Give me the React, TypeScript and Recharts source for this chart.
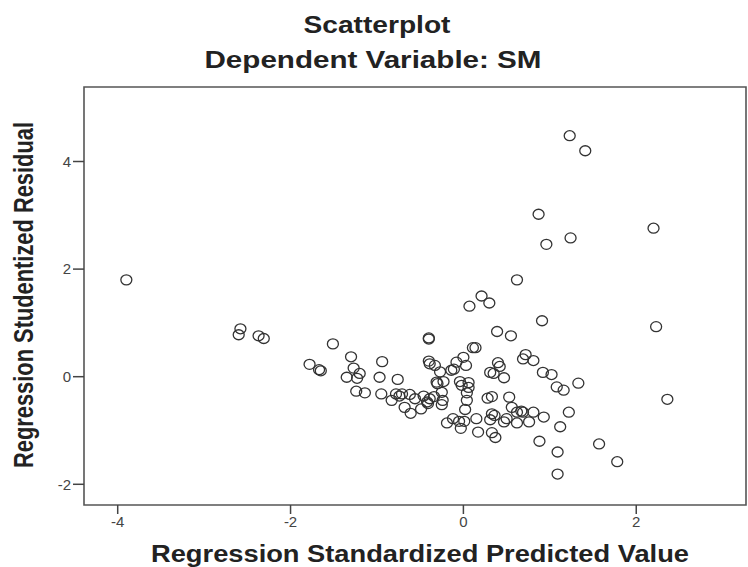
import React from "react";
import {
  ReferenceArea,
  Scatter,
  ScatterChart,
  XAxis,
  YAxis,
} from "recharts";

// predicted value (x) vs studentized residual (y)
const PREDICTED = [
  -3.9, 1.23, 1.41, 0.87, 2.2, 1.24, 0.96, 0.62, 0.21, 0.3, 0.07, 0.91, 2.23,
  -2.58, -2.6, -2.37, -2.31, 0.39, 0.55, -0.4, -0.4, -1.51, 0.11, 0.14, -1.3,
  0.72, 0.69, 0.81, -0.94, -1.78, -1.67, -1.65, -1.27, -1.2, -1.35, -1.23,
  -0.97, -0.76, -1.24, -1.14, -0.95, -0.4, -0.39, -0.33, -0.08, 0.0, 0.03,
  -0.14, -0.11, -0.27, 0.4, 0.42, 0.31, 0.47, 0.92, 1.02, 1.33, 1.08, 1.16,
  -0.31, -0.23, -0.04, 0.06, -0.02, -0.25, 0.04, 0.04, -0.24, -0.25, -0.78,
  -0.71, -0.62, -0.83, -0.56, -0.68, -0.61, -0.49, -0.42, -0.39, -0.34, -0.41,
  0.28, 0.33, 0.53, 0.56, 0.02, 0.33, 0.36, 0.62, 0.67, 0.69, 0.81, 0.93, 1.22,
  0.15, 0.31, 0.47, 0.62, 0.76, -0.12, -0.19, -0.05, 0.01, -0.03, 0.17, 0.33,
  0.37, 1.12, 0.88, 1.57, 1.09, 1.78, 1.09, 2.36, 0.5, -0.74, 0.06, -0.46,
  -0.3, 0.35,
];

const RESIDUAL = [
  1.8, 4.48, 4.2, 3.02, 2.76, 2.58, 2.46, 1.8, 1.5, 1.37, 1.31, 1.04, 0.93,
  0.89, 0.78, 0.76, 0.71, 0.84, 0.76, 0.72, 0.7, 0.61, 0.54, 0.54, 0.37, 0.41,
  0.33, 0.3, 0.28, 0.23, 0.13, 0.11, 0.16, 0.06, -0.01, -0.03, -0.01, -0.05,
  -0.27, -0.3, -0.32, 0.29, 0.24, 0.21, 0.27, 0.36, 0.21, 0.12, 0.14, 0.09,
  0.26, 0.19, 0.08, -0.02, 0.08, 0.04, -0.12, -0.19, -0.25, -0.1, -0.09, -0.09,
  -0.11, -0.16, -0.29, -0.3, -0.44, -0.44, -0.52, -0.32, -0.32, -0.33, -0.44,
  -0.41, -0.57, -0.68, -0.6, -0.47, -0.41, -0.37, -0.5, -0.4, -0.37, -0.38,
  -0.57, -0.61, -0.69, -0.72, -0.66, -0.64, -0.66, -0.66, -0.75, -0.66, -0.78,
  -0.8, -0.84, -0.86, -0.84, -0.78, -0.86, -0.83, -0.83, -0.96, -1.03, -1.04,
  -1.13, -0.93, -1.2, -1.25, -1.4, -1.58, -1.81, -0.42, -0.78, -0.36, -0.2,
  -0.36, -0.13, 0.06,
];

const X_TICKS = [-4, -2, 0, 2];
const Y_TICKS = [-2, 0, 2, 4];
const X_DOMAIN = [-4.39, 3.27];
const Y_DOMAIN = [-2.385, 5.385];

const TITLE = "Scatterplot";
const SUBTITLE = "Dependent Variable: SM";
const X_LABEL = "Regression Standardized Predicted Value";
const Y_LABEL = "Regression Studentized Residual";

const points = PREDICTED.map((x, i) => ({ x, y: RESIDUAL[i] }));

const FONT = "'Liberation Sans', Arial, sans-serif";
const INK = "#222";

// the source picture is stretched sideways, so texts get a fixed length
const Stretched = ({ x, y, len, size, rotate, children }: any) => (
  <text
    x={x}
    y={y}
    textAnchor="middle"
    fontFamily={FONT}
    fontWeight="bold"
    fontSize={size}
    fill={INK}
    textLength={len}
    lengthAdjust="spacingAndGlyphs"
    transform={rotate ? `rotate(-90, ${x}, ${y})` : undefined}
  >
    {children}
  </text>
);

const Ring = (props: any) => (
  <ellipse
    cx={props.cx}
    cy={props.cy}
    rx={5.5}
    ry={5}
    fill="none"
    stroke="#333"
    strokeWidth={1.3}
  />
);

export default function App() {
  return (
    <div
      style={{
        position: "absolute",
        left: 0,
        top: 0,
        width: 748,
        height: 567,
        background: "#fff",
      }}
    >
      <ScatterChart
        width={748}
        height={567}
        margin={{ top: 87, right: 2, bottom: 32, left: 24 }}
      >
        <XAxis
          type="number"
          dataKey="x"
          domain={X_DOMAIN}
          ticks={X_TICKS}
          allowDataOverflow
          height={30}
          axisLine={false}
          tickLine={{ stroke: "#444", strokeWidth: 1.5 }}
          tickSize={9}
          tick={{ fontSize: 15, fill: "#444", fontFamily: FONT }}
        />
        <YAxis
          type="number"
          dataKey="y"
          domain={Y_DOMAIN}
          ticks={Y_TICKS}
          allowDataOverflow
          width={60}
          axisLine={false}
          tickLine={{ stroke: "#444", strokeWidth: 1.5 }}
          tickSize={11}
          tick={{ fontSize: 15, fill: "#444", fontFamily: FONT }}
        />
        <ReferenceArea
          x1={X_DOMAIN[0]}
          x2={X_DOMAIN[1]}
          y1={Y_DOMAIN[0]}
          y2={Y_DOMAIN[1]}
          fill="none"
          stroke="#555"
          strokeWidth={1.6}
          ifOverflow="visible"
        />
        <Scatter data={points} shape={<Ring />} isAnimationActive={false} />
      </ScatterChart>
      <svg
        width={748}
        height={567}
        style={{ position: "absolute", left: 0, top: 0, pointerEvents: "none" }}
      >
        <Stretched x={377} y={33} len={147} size={23}>
          {TITLE}
        </Stretched>
        <Stretched x={373} y={68} len={337} size={24}>
          {SUBTITLE}
        </Stretched>
        <Stretched x={420} y={562} len={538} size={23}>
          {X_LABEL}
        </Stretched>
        <Stretched x={33} y={295} len={346} size={27} rotate>
          {Y_LABEL}
        </Stretched>
      </svg>
    </div>
  );
}
